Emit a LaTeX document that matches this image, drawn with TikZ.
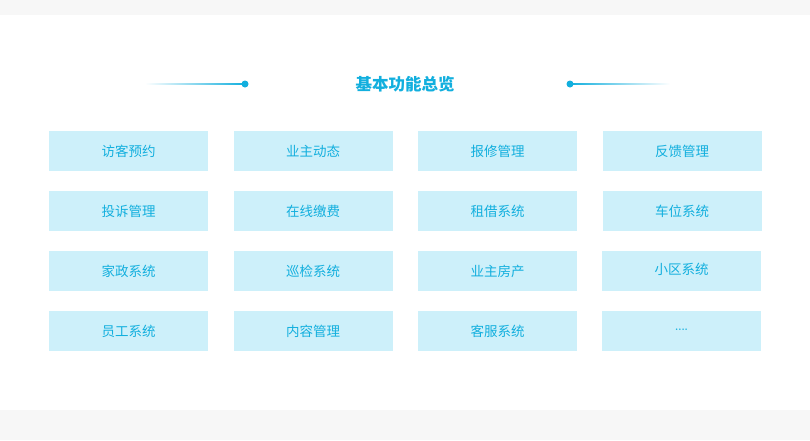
\documentclass[tikz,border=0pt]{standalone}
\usepackage{fontspec}
\newfontfamily\cjk{Noto Sans CJK SC}
\usetikzlibrary{positioning}
\definecolor{boxfill}{HTML}{CDF0FA}
\definecolor{textblue}{HTML}{12AFDE}
\definecolor{bandgray}{HTML}{F7F7F7}

\begin{document}
\begin{tikzpicture}[x=1pt,y=-1pt]
    \tikzstyle{feature}=[rectangle,fill=boxfill,minimum width=159pt,minimum height=40pt,inner sep=0pt,text=textblue,font=\cjk\fontsize{13.5}{15}\selectfont]
    \tikzstyle{dot}=[circle,fill=textblue,minimum size=7pt,inner sep=0pt]

    % Background and bands
    \fill[white] (0,0) rectangle (810,440);
    \fill[bandgray] (0,0) rectangle (810,15);
    \fill[bandgray] (0,410) rectangle (810,440);

    % Title with side lines
    \node[text=textblue,font=\cjk\bfseries\fontsize{16.5}{18}\selectfont] (title) at (405,84) {基本功能总览};
    \shade[left color=white,right color=textblue] (145,83.4) rectangle (245,84.6);
    \shade[left color=textblue,right color=white] (570,83.4) rectangle (670,84.6);
    \node[dot] (dot-l) at (245,84) {};
    \node[dot] (dot-r) at (570,84) {};

    % Feature boxes
    \foreach \name/\col/\row/\label in {
        1/1/1/访客预约, 2/2/1/业主动态, 3/3/1/报修管理, 4/4/1/反馈管理,
        5/1/2/投诉管理, 6/2/2/在线缴费, 7/3/2/租借系统, 8/4/2/车位系统,
        9/1/3/家政系统, 10/2/3/巡检系统, 11/3/3/业主房产,
        13/1/4/员工系统, 14/2/4/内容管理, 15/3/4/客服系统}
        \node[feature] (F-\name) at ({128.5+184.5*(\col-1)},{151+60*(\row-1)}) {\label};

    \node[feature] (F-12) at (681.5,271) {\raisebox{4pt}{小区系统}};
    \node[feature,font=\fontsize{10}{12}\selectfont\bfseries] (F-16) at (681.5,331) {\raisebox{2pt}{....}};
\end{tikzpicture}
\end{document}
